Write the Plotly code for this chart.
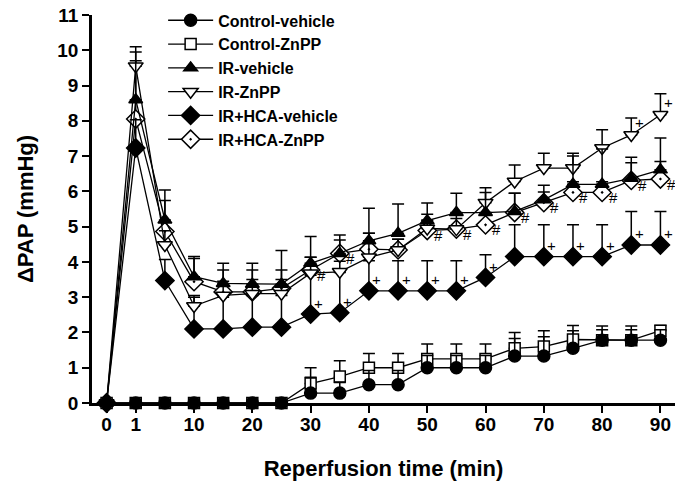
import plotly.graph_objects as go

# Reperfusion time points (min); plotted at equal spacing (categorical-like axis)
times = [0, 1, 5, 10, 15, 20, 25, 30, 35, 40, 45, 50, 55, 60, 65, 70, 75, 80, 85, 90]
tick_times = [0, 1, 10, 20, 30, 40, 50, 60, 70, 80, 90]

ctrl_vehicle = [0, 0, 0, 0, 0, 0, 0, 0.28, 0.28, 0.52, 0.52, 1.0, 1.0, 1.0, 1.33, 1.33, 1.55, 1.78, 1.78, 1.78]
ctrl_vehicle_err = [0, 0, 0, 0, 0, 0, 0, 0.45, 0.3, 0.4, 0.4, 0.35, 0.35, 0.35, 0.5, 0.55, 0.5, 0.3, 0.3, 0.3]

ctrl_znpp = [0, 0, 0, 0, 0, 0, 0, 0.55, 0.75, 1.0, 1.0, 1.25, 1.25, 1.25, 1.55, 1.6, 1.8, 1.78, 1.78, 2.05]
ctrl_znpp_err = [0, 0, 0, 0, 0, 0, 0, 0.45, 0.45, 0.4, 0.4, 0.42, 0.42, 0.42, 0.45, 0.45, 0.4, 0.4, 0.4, 0.15]

ir_vehicle = [0, 8.6, 5.19, 3.58, 3.39, 3.37, 3.37, 3.96, 4.24, 4.6, 4.81, 5.17, 5.4, 5.4, 5.43, 5.76, 6.2, 6.2, 6.37, 6.61]
ir_vehicle_err = [0, 1.35, 0.85, 0.57, 0.57, 0.59, 0.95, 0.76, 0.52, 0.92, 0.83, 0.5, 0.55, 0.57, 0.52, 0.41, 0.8, 1.0, 0.6, 0.9]

ir_znpp = [0, 9.55, 4.48, 2.75, 3.05, 3.1, 3.1, 3.68, 3.72, 4.13, 4.34, 4.95, 4.93, 5.68, 6.28, 6.66, 6.66, 7.23, 7.6, 8.17]
ir_znpp_err = [0, 0.55, 0.4, 0.3, 0.4, 0.4, 0.4, 0.45, 0.3, 0.68, 0.3, 0.4, 0.45, 0.42, 0.47, 0.42, 0.42, 0.52, 0.48, 0.6]

hca_vehicle = [0, 7.23, 3.47, 2.1, 2.1, 2.15, 2.15, 2.52, 2.56, 3.18, 3.18, 3.18, 3.18, 3.56, 4.15, 4.15, 4.15, 4.15, 4.48, 4.48]
hca_vehicle_err = [0, 0.8, 0.6, 0.9, 0.9, 0.9, 0.9, 1.1, 1.14, 0.85, 0.85, 0.85, 0.85, 0.64, 0.9, 0.9, 0.9, 0.9, 0.95, 0.95]

hca_znpp = [0, 8.05, 4.86, 3.44, 3.15, 3.15, 3.25, 3.77, 4.24, 4.36, 4.34, 4.89, 4.93, 5.05, 5.4, 5.68, 5.97, 5.97, 6.31, 6.35]
hca_znpp_err = [0, 1.65, 0.88, 0.66, 0.62, 0.62, 0.52, 0.36, 0.38, 0.45, 0.3, 0.3, 0.3, 0.3, 0.55, 0.3, 0.3, 0.3, 0.5, 0.5]

# significance marks (time points)
hash_hca_znpp = [30, 35, 50, 55, 60, 65, 70, 75, 80, 85, 90]
plus_hca_vehicle = [30, 35, 40, 45, 50, 55, 60, 70, 75, 80, 85, 90]
plus_ir_znpp = [85, 90]

FONT = "Arial, 'Liberation Sans', sans-serif"
xpos = list(range(len(times)))

series = [
    ("Control-vehicle", ctrl_vehicle, ctrl_vehicle_err, "circle", "black", 12),
    ("Control-ZnPP", ctrl_znpp, ctrl_znpp_err, "square", "white", 11),
    ("IR-vehicle", ir_vehicle, ir_vehicle_err, "triangle-up", "black", 12),
    ("IR-ZnPP", ir_znpp, ir_znpp_err, "triangle-down", "white", 13),
    ("IR+HCA-vehicle", hca_vehicle, hca_vehicle_err, "diamond", "black", 14),
    ("IR+HCA-ZnPP", hca_znpp, hca_znpp_err, "diamond-dot", "white", 14),
]

fig = go.Figure()
# draw in reverse so that control markers sit on top; legend order restored below
for name, vals, err, sym, fill, size in reversed(series):
    fig.add_trace(go.Scatter(
        x=xpos, y=vals, name=name, mode="lines+markers",
        line=dict(color="black", width=1.3),
        marker=dict(symbol=sym, color=fill, size=size, line=dict(color="black", width=1.5)),
        error_y=dict(type="data", array=err, arrayminus=[0] * len(err), symmetric=False,
                     color="black", thickness=1.5, width=6),
        cliponaxis=False,
    ))

annotations = []
def add_ann(times_list, vals, text, dx, dy):
    for t in times_list:
        i = times.index(t)
        annotations.append(dict(x=i, y=vals[i], xref="x", yref="y", text=text, showarrow=False,
                                xshift=dx, yshift=dy,
                                font=dict(family=FONT, size=15, color="#000000")))

add_ann(hash_hca_znpp, hca_znpp, "#", 11, -5)
add_ann(plus_hca_vehicle, hca_vehicle, "+", 8, 11)
add_ann(plus_ir_znpp, ir_znpp, "+", 8, 12)

# page body has an 8px margin: figure is sized/positioned to compensate
fig.update_layout(
    width=675, height=484,
    margin=dict(l=84, r=8, t=7, b=89, autoexpand=False),
    paper_bgcolor="white", plot_bgcolor="white",
    font=dict(family=FONT, color="black"),
    showlegend=True,
    legend=dict(x=0.122, y=1.03, xanchor="left", yanchor="top", traceorder="reversed",
                font=dict(family=FONT, size=16, weight="bold"),
                bgcolor="rgba(0,0,0,0)", itemwidth=45),
    annotations=annotations,
    xaxis=dict(
        range=[-0.5, 19.5], showgrid=False, zeroline=False, automargin=False,
        showline=True, linecolor="black", linewidth=2.5,
        ticks="outside", ticklen=7, tickwidth=2, tickcolor="black",
        tickvals=[times.index(t) for t in tick_times], ticktext=[str(t) for t in tick_times],
        tickfont=dict(family=FONT, size=19, weight="bold"),
        ticklabelstandoff=-5, ticklabeloverflow="allow",
        title=dict(text="Reperfusion time (min)", font=dict(family=FONT, size=22, weight="bold"), standoff=28),
    ),
    yaxis=dict(
        range=[0, 11], dtick=1, showgrid=False, zeroline=False, automargin=False,
        showline=True, linecolor="black", linewidth=2.5,
        ticks="outside", ticklen=7, tickwidth=2, tickcolor="black",
        tickfont=dict(family=FONT, size=19, weight="bold"), ticklabeloverflow="allow",
        title=dict(text="ΔPAP (mmHg)", font=dict(family=FONT, size=22, weight="bold"), standoff=18),
    ),
)

fig.write_html("out.html")
